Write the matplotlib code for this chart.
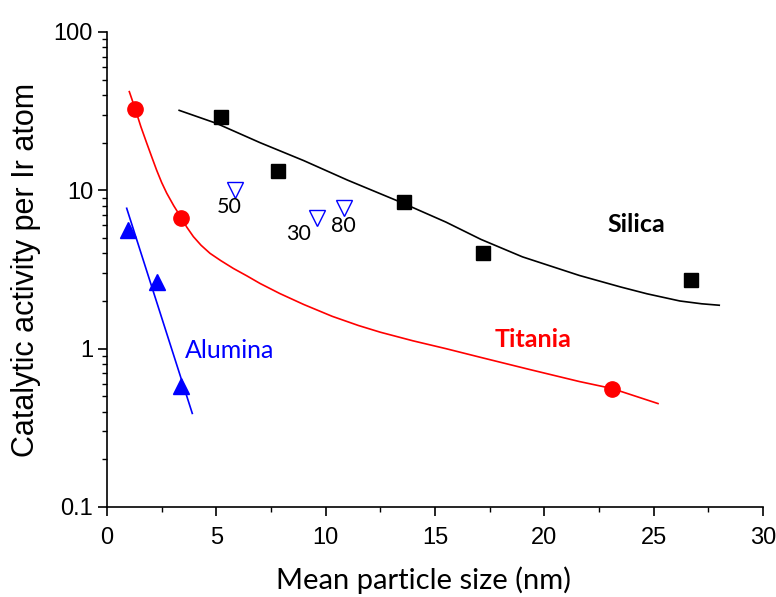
import numpy as np
import matplotlib.pyplot as plt
from matplotlib.ticker import MultipleLocator, LogLocator, NullFormatter, FixedLocator

# measured points
silica_x = [5.2, 7.8, 13.6, 17.2, 26.7]
silica_y = [29.0, 13.2, 8.4, 4.0, 2.7]
titania_x = [1.3, 3.4, 23.1]
titania_y = [32.5, 6.7, 0.56]
alumina_x = [0.95, 2.3, 3.4]
alumina_y = [5.6, 2.65, 0.58]
other_x = [5.85, 9.6, 10.85]
other_y = [10.0, 6.7, 7.7]
other_labels = ["50", "30", "80"]
other_label_x = [5.58, 8.78, 10.79]
other_label_y = [7.8, 5.3, 5.95]

# guide curves
silica_fit_x = [3.3, 5.0, 7.0, 9.0, 11.0, 13.4, 15.5, 17.1, 19.0, 21.6, 23.5, 24.7, 26.2, 27.2, 28.0]
silica_fit_y = [32.0, 26.5, 20.0, 15.4, 11.6, 8.45, 6.3, 4.9, 3.8, 2.9, 2.45, 2.22, 2.0, 1.92, 1.88]
titania_fit_x = [1.02, 1.28, 1.55, 1.82, 2.05, 2.27, 2.5, 2.73, 3.05, 3.38, 3.65, 3.95, 4.3, 4.71,
                 5.2, 5.78, 6.4, 7.0, 7.9, 9.0, 10.3, 11.5, 12.5, 14.0, 15.5, 17.1, 19.3, 21.6, 23.1, 25.2]
titania_fit_y = [42.0, 33.0, 25.2, 19.8, 16.2, 13.4, 11.2, 9.6, 8.0, 6.76, 5.85, 5.1, 4.5, 4.0,
                 3.6, 3.21, 2.88, 2.58, 2.23, 1.9, 1.6, 1.4, 1.27, 1.12, 1.0, 0.88, 0.74, 0.62, 0.56, 0.45]
alumina_fit_x = [0.9, 3.9]
alumina_fit_y = [7.7, 0.39]

plt.rcParams['font.family'] = ['Liberation Sans', 'DejaVu Sans']
plt.rcParams['xtick.labelsize'] = 17
plt.rcParams['ytick.labelsize'] = 17
text_font = ['Lato', 'Open Sans', 'DejaVu Sans']

fig = plt.figure(figsize=(7.76, 5.97), dpi=100)
ax = fig.add_axes([0.1379, 0.1508, 0.8453, 0.7956])

ax.plot(silica_fit_x, silica_fit_y, color='black', lw=1.2)
ax.plot(titania_fit_x, titania_fit_y, color='#ff0000', lw=1.2)
ax.plot(alumina_fit_x, alumina_fit_y, color='#0000ff', lw=1.2)

ax.plot(silica_x, silica_y, 's', color='black', ms=10)
ax.plot(titania_x, titania_y, 'o', color='#ff0000', ms=11)
ax.plot(alumina_x, alumina_y, '^', color='#0000ff', ms=12)
ax.plot(other_x, other_y, 'v', mfc='white', mec='#0000ff', mew=1.0, ms=12)

for x, y, lab in zip(other_label_x, other_label_y, other_labels):
    ax.text(x, y, lab, fontsize=15.5, family=text_font, ha='center', va='center')

ax.text(24.23, 6.1, "Silica", fontsize=18, fontweight='bold', family=text_font,
        color='black', ha='center', va='center')
ax.text(19.48, 1.15, "Titania", fontsize=18, fontweight='bold', family=text_font,
        color='#ff0000', ha='center', va='center')
ax.text(5.6, 0.97, "Alumina", fontsize=18, family=text_font,
        color='#0000ff', ha='center', va='center')

ax.set_yscale('log')
ax.set_xlim(0, 30)
ax.set_ylim(0.1, 100)
ax.xaxis.set_major_locator(MultipleLocator(5))
ax.xaxis.set_minor_locator(MultipleLocator(2.5))
ax.yaxis.set_major_locator(FixedLocator([0.1, 1, 10, 100]))
ax.yaxis.set_minor_locator(LogLocator(base=10, subs=np.arange(2, 10)))
ax.yaxis.set_minor_formatter(NullFormatter())
ax.set_yticklabels(["0.1", "1", "10", "100"])

for side in ['top', 'right']:
    ax.spines[side].set_visible(False)
for side in ['left', 'bottom']:
    ax.spines[side].set_linewidth(1.2)

ax.tick_params(which='major', direction='out', length=6.5, width=1.2)
ax.tick_params(axis='x', which='major', pad=8)
ax.tick_params(which='minor', direction='out', length=3.5, width=1.0)

ax.set_xlabel("Mean particle size (nm)", fontsize=21, family=text_font, va='baseline')
ax.xaxis.set_label_coords(0.482, -0.173)
ax.set_ylabel("Catalytic activity per Ir atom", fontsize=22)
ax.yaxis.set_label_coords(-0.10, 0.5)

fig.savefig("out.png", dpi=100)
